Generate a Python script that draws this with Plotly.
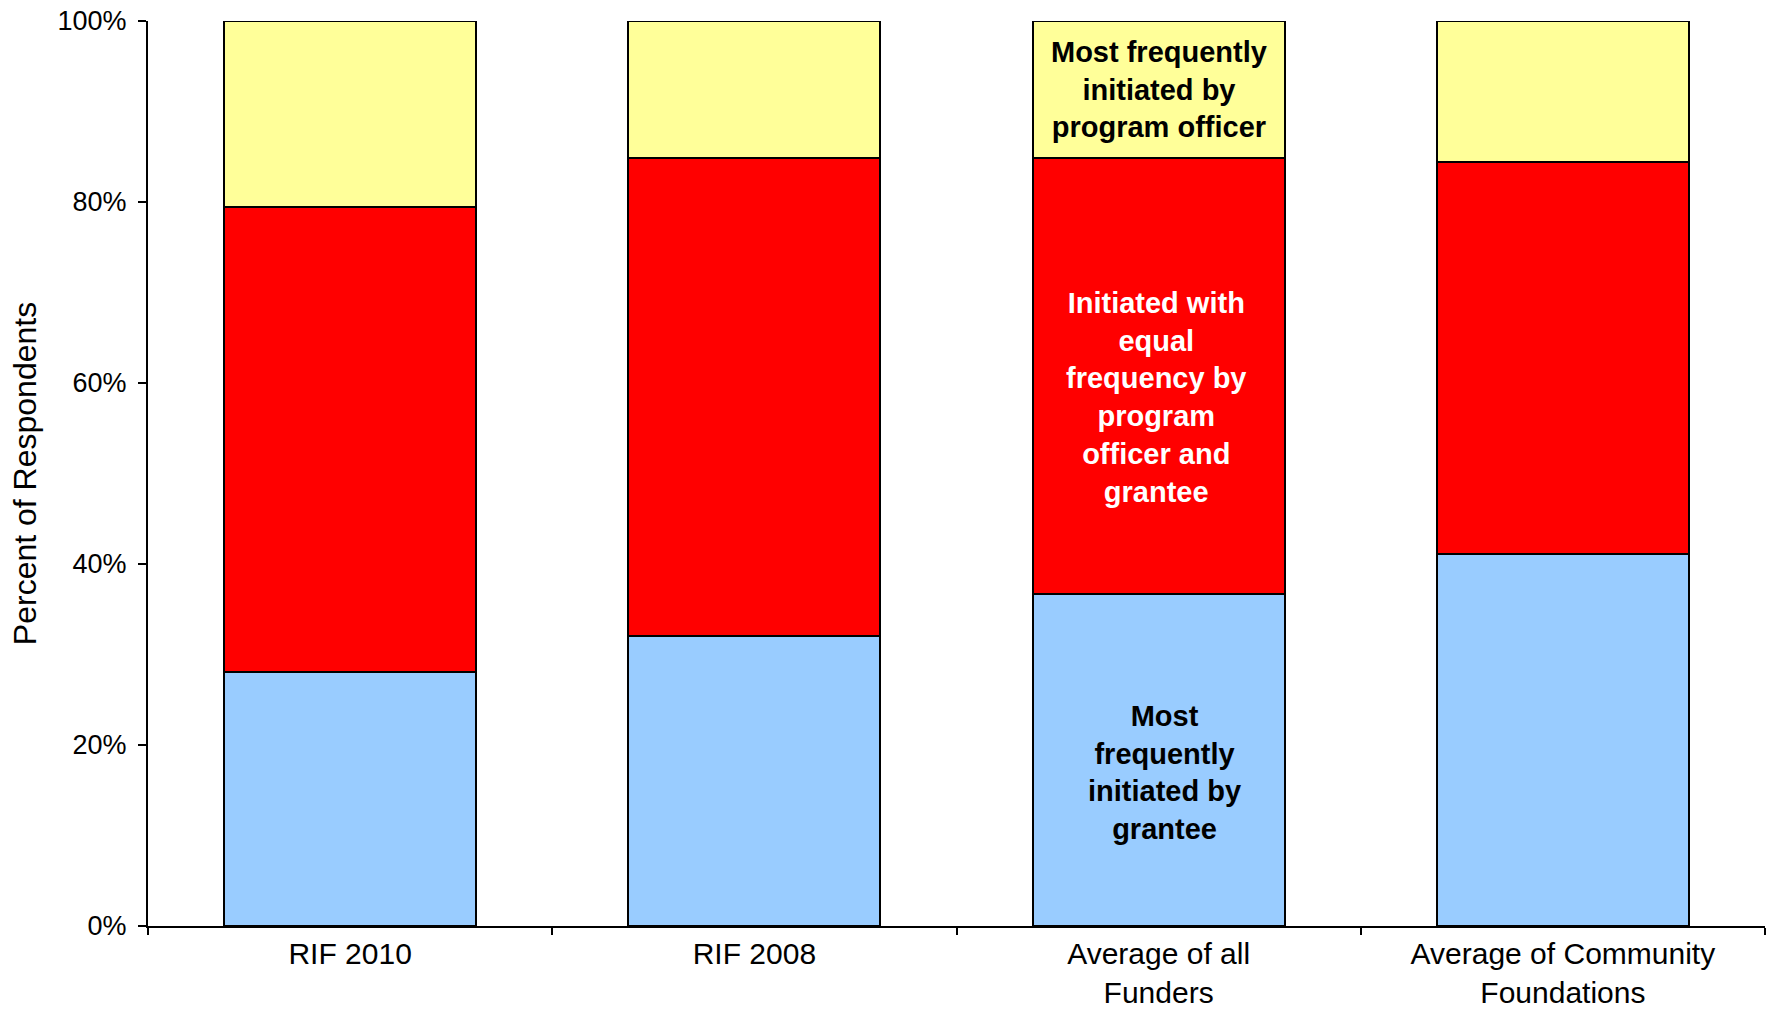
import plotly.graph_objects as go

categories = ["RIF 2010", "RIF 2008", "Average of all<br>Funders", "Average of Community<br>Foundations"]
grantee = [28.1, 32.0, 36.7, 41.1]
equal = [51.3, 52.9, 48.2, 43.3]
officer = [20.6, 15.1, 15.1, 15.6]

series_names = [
    "Most frequently initiated by grantee",
    "Initiated with equal frequency by program officer and grantee",
    "Most frequently initiated by program officer",
]
label_texts = [
    "<b>Most<br>frequently<br>initiated by<br>grantee</b>",
    "<b>Initiated with<br>equal<br>frequency by<br>program<br>officer and<br>grantee</b>",
    "<b>Most frequently<br>initiated by<br>program officer</b>",
]
colors = ["#99CCFF", "#FF0000", "#FFFF99"]
label_colors = ["#000000", "#FFFFFF", "#000000"]
label_bar = 2  # label the "Average of all Funders" bar

FONT = "Liberation Sans, Arial, sans-serif"

fig = go.Figure()
series = [grantee, equal, officer]
for vals, name, col in zip(series, series_names, colors):
    fig.add_trace(go.Bar(
        x=categories, y=vals, name=name,
        marker=dict(color=col, line=dict(color="#000000", width=2)),
        hoverinfo="x+y+name",
    ))

# labels centered in segments of the labelled bar
base = 0
y_shifts = [-13, -22, 0]
x_shifts = [6, -2, 0]
for vals, txt, tc, ys, xs in zip(series, label_texts, label_colors, y_shifts, x_shifts):
    v = vals[label_bar]
    fig.add_annotation(
        x=categories[label_bar], y=base + v / 2, text=txt, showarrow=False,
        font=dict(family=FONT, size=29, color=tc), yshift=ys, xshift=xs,
        align="center",
    )
    base += v

fig.update_layout(
    barmode="stack",
    bargap=0.377,
    width=1767, height=1010,
    margin=dict(l=148, r=2, t=21, b=84, autoexpand=False),
    paper_bgcolor="#FFFFFF", plot_bgcolor="#FFFFFF",
    showlegend=False,
    font=dict(family=FONT, color="#000000"),
)
fig.update_xaxes(
    showline=True, linecolor="#000000", linewidth=2,
    ticks="outside", tickson="boundaries", ticklen=7, tickwidth=2, tickcolor="#000000",
    tickfont=dict(family=FONT, size=30, color="#000000"),
    showgrid=False, zeroline=False, automargin=False,
)
fig.update_yaxes(
    range=[0, 100], dtick=20, ticksuffix="%",
    showline=True, linecolor="#000000", linewidth=2,
    ticks="outside", ticklen=8, tickwidth=2, tickcolor="#000000",
    tickfont=dict(family=FONT, size=27, color="#000000"),
    ticklabelstandoff=6,
    title=dict(text="Percent of Respondents", font=dict(family=FONT, size=32, color="#000000"), standoff=11),
    showgrid=False, zeroline=False, automargin=False,
)

fig.write_html("out.html")
